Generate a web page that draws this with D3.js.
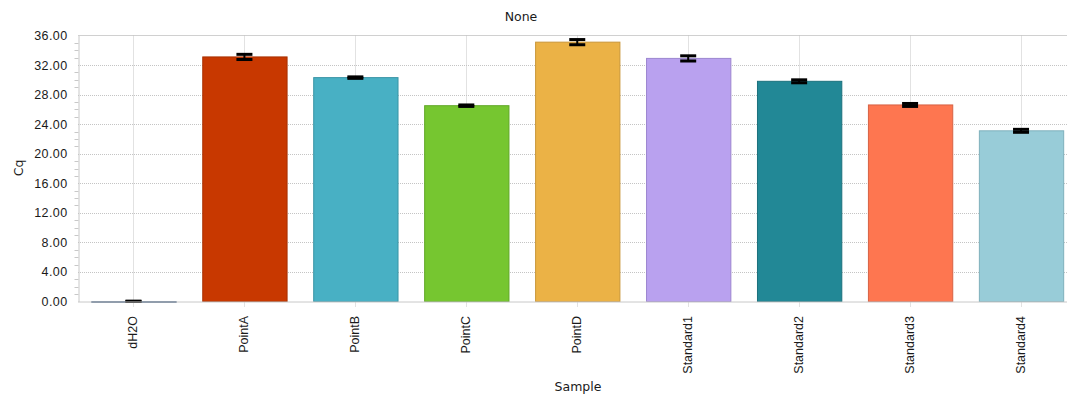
<!DOCTYPE html>
<html>
<head>
<meta charset="utf-8">
<script src="https://cdn.jsdelivr.net/npm/d3@7"></script>
<style>
  html, body { margin: 0; padding: 0; background: #fff; }
  svg { display: block; font-family: "DejaVu Sans", Verdana, sans-serif; }
</style>
</head>
<body>
<svg id="chart" width="1067" height="396"></svg>
<script>
// Mean Cq per sample, with standard deviation for the error bars
const samples = ["dH2O", "PointA", "PointB", "PointC", "PointD", "Standard1", "Standard2", "Standard3", "Standard4"];
const cqMean  = [0, 33.1, 30.3, 26.5, 35.1, 32.9, 29.8, 26.6, 23.1];
const cqError = [0.05, 0.35, 0.1, 0.1, 0.35, 0.35, 0.2, 0.2, 0.2];
const barColors  = ["#6f8aa8", "#c83800", "#48b0c4", "#76c630", "#ebb246", "#b9a1ef", "#228896", "#fe7650", "#98ccd8"];
const barStrokes = ["#5a7290", "#a83000", "#3a94a6", "#62a828", "#c9963a", "#9c86d0", "#1b717d", "#d86244", "#7fb0bc"];
const yTicks = [0, 4, 8, 12, 16, 20, 24, 28, 32, 36];

const svg = d3.select("#chart");
const plotLeft = 78, plotTop = 35.5, plotBottom = 301.5, plotRight = 1076.5;

const x = d3.scaleBand().domain(samples).range([plotLeft, plotRight]).paddingInner(0.24).paddingOuter(0.12);
const y = d3.scaleLinear().domain([0, 36]).range([plotBottom, plotTop]);

// plot frame (top border)
svg.append("line").attr("x1", plotLeft).attr("x2", 1067).attr("y1", plotTop).attr("y2", plotTop)
  .attr("stroke", "#d0d0d0").attr("stroke-width", 1);

// horizontal dotted grid
svg.append("g").selectAll("line").data(yTicks.filter(d => d > 0 && d < 36)).join("line")
  .attr("x1", plotLeft).attr("x2", 1067)
  .attr("y1", d => Math.round(y(d)) + 0.5).attr("y2", d => Math.round(y(d)) + 0.5)
  .attr("stroke", "#c4c4c4").attr("stroke-dasharray", "1,1");

// vertical dotted grid at category centres
svg.append("g").selectAll("line").data(samples).join("line")
  .attr("x1", d => Math.round(x(d) + x.bandwidth() / 2) + 0.5)
  .attr("x2", d => Math.round(x(d) + x.bandwidth() / 2) + 0.5)
  .attr("y1", plotTop).attr("y2", plotBottom + 6)
  .attr("stroke", "#c4c4c4").attr("stroke-dasharray", "1,1");

// bars
svg.append("g").selectAll("rect").data(samples).join("rect")
  .attr("x", d => x(d) + 0.5)
  .attr("y", (d, i) => y(cqMean[i]))
  .attr("width", x.bandwidth())
  .attr("height", (d, i) => Math.max(1, plotBottom - y(cqMean[i])))
  .attr("fill", (d, i) => barColors[i])
  .attr("stroke", (d, i) => barStrokes[i])
  .attr("stroke-width", 1);

// error bars
const eb = svg.append("g").selectAll("g").data(samples).join("g");
eb.append("line")
  .attr("x1", d => x(d) + x.bandwidth() / 2).attr("x2", d => x(d) + x.bandwidth() / 2)
  .attr("y1", (d, i) => y(cqMean[i] + cqError[i])).attr("y2", (d, i) => y(cqMean[i] - cqError[i]))
  .attr("stroke", "#000").attr("stroke-width", 2);
eb.append("rect")
  .attr("x", d => x(d) + x.bandwidth() / 2 - 8).attr("width", 16)
  .attr("y", (d, i) => y(cqMean[i] + cqError[i]) - 1.5).attr("height", 3)
  .attr("fill", "#000");
eb.append("rect")
  .attr("x", d => x(d) + x.bandwidth() / 2 - 8).attr("width", 16)
  .attr("y", (d, i) => y(Math.max(0, cqMean[i] - cqError[i])) - 1.5).attr("height", 3)
  .attr("fill", "#000");

// y axis with minor ticks
const yAxis = svg.append("g").attr("transform", `translate(${plotLeft + 0.5},0)`);
yAxis.call(d3.axisLeft(y).tickValues(yTicks).tickFormat(d3.format(".2f")).tickSize(0).tickPadding(11));
yAxis.select(".domain").attr("stroke", "#c8c8c8");
yAxis.selectAll(".tick text").attr("font-size", 12.5).attr("letter-spacing", 0.4).attr("fill", "#1a1a1a");
yAxis.append("g").selectAll("line").data(d3.range(1, 36).filter(v => v % 4 !== 0)).join("line")
  .attr("x1", -4).attr("x2", 0)
  .attr("y1", d => Math.round(y(d)) + 0.5).attr("y2", d => Math.round(y(d)) + 0.5)
  .attr("stroke", "#c8c8c8");

// x axis
const xAxis = svg.append("g").attr("transform", `translate(0,${plotBottom + 0.5})`);
xAxis.call(d3.axisBottom(x).tickSize(0).tickPadding(0));
xAxis.select(".domain").attr("stroke", "#c8c8c8").attr("d", `M${plotLeft},0H1067`);
xAxis.selectAll(".tick text")
  .attr("font-size", 12.5).attr("fill", "#1a1a1a")
  .attr("text-anchor", "end")
  .attr("transform", "translate(4,14) rotate(-90)")
  .attr("dy", 0).attr("y", 0);

// titles
svg.append("text").attr("x", 521).attr("y", 21).attr("text-anchor", "middle")
  .attr("font-size", 12.5).attr("fill", "#1a1a1a").text("None");
svg.append("text").attr("x", 578).attr("y", 391).attr("text-anchor", "middle")
  .attr("font-size", 12.5).attr("fill", "#1a1a1a").text("Sample");
svg.append("text").attr("transform", "translate(23,168) rotate(-90)").attr("text-anchor", "middle")
  .attr("font-size", 12.5).attr("fill", "#1a1a1a").text("Cq");
</script>
</body>
</html>
